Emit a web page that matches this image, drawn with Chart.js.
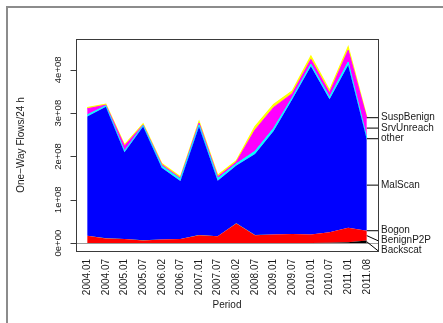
<!DOCTYPE html>
<html>
<head>
<meta charset="utf-8">
<script src="https://cdn.jsdelivr.net/npm/chart.js@4.4.1/dist/chart.umd.min.js"></script>
<style>
  html, body { margin: 0; padding: 0; background: #fff; }
  #wrap { position: relative; width: 443px; height: 323px; overflow: hidden; }
  #frame { position: absolute; left: 6px; top: 6px; width: 470px; height: 340px;
           border-left: 2px solid #8c8c8c; border-top: 2px solid #8c8c8c; }
  #c { position: absolute; left: 0; top: 0; }
</style>
</head>
<body>
<div id="wrap">
  <div id="frame"></div>
  <canvas id="c" width="443" height="323"></canvas>
</div>
<script>
// Sampling periods (x axis)
const periods = ['2004.01','2004.07','2005.01','2005.07','2006.02','2006.07','2007.01','2007.07',
                 '2008.02','2008.07','2009.01','2009.07','2010.01','2010.07','2011.01','2011.08'];

// One-way flows per 24 h, in units of 1e8, per traffic class (stacked bottom to top)
const backscat   = [0.002,0.002,0.002,0.002,0.002,0.002,0.003,0.003,0.003,0.004,0.004,0.005,0.006,0.009,0.020,0.062];
const benignP2P  = [0.168,0.108,0.091,0.060,0.083,0.091,0.182,0.157,0.452,0.181,0.196,0.205,0.194,0.241,0.335,0.223];
const bogon      = [0.002,0.002,0.002,0.002,0.002,0.002,0.002,0.002,0.003,0.002,0.002,0.002,0.002,0.003,0.003,0.003];
const malScan    = [2.748,3.038,2.005,2.626,1.653,1.340,2.503,1.278,1.332,1.873,2.388,3.108,3.878,3.067,3.752,2.102];
const other      = [0.040,0.020,0.030,0.025,0.040,0.045,0.040,0.050,0.040,0.060,0.060,0.040,0.050,0.050,0.070,0.040];
const srvUnreach = [0.140,0.015,0.110,0.012,0.030,0.020,0.040,0.040,0.040,0.490,0.480,0.090,0.110,0.100,0.270,0.450];
const suspBenign = [0.030,0.020,0.030,0.025,0.030,0.030,0.040,0.040,0.030,0.080,0.070,0.060,0.080,0.060,0.080,0.030];

const seriesNames  = ['Backscat','BenignP2P','Bogon','MalScan','other','SrvUnreach','SuspBenign'];
const seriesValues = [backscat, benignP2P, bogon, malScan, other, srvUnreach, suspBenign];
const seriesColors = ['#000000','#ff0000','#00cd00','#0000ff','#00ffff','#ff00ff','#ffff00'];
const seriesEdge   = [0, 0, 0, 0, 1, 1, 1.2];

const yTickValues = [0, 1e8, 2e8, 3e8, 4e8];
const yTickLabels = ['0e+00','1e+08','2e+08','3e+08','4e+08'];

const UNIT = 1e8;
const FONT = '"Liberation Sans", Arial, Helvetica, sans-serif';
const TEXT = '#1a1a1a';

// y range padded by 4% of the stacked maximum on both sides
const totals = periods.map((_, i) => seriesValues.reduce((s, arr) => s + arr[i], 0) * UNIT);
const maxTotal = Math.max(...totals);
const yPad = 0.04 * maxTotal;
const xPad = 0.04 * (periods.length - 1);

const datasets = seriesNames.map((name, k) => ({
  label: name,
  data: seriesValues[k].map((v, i) => ({ x: i, y: v * UNIT })),
  backgroundColor: seriesColors[k],
  borderColor: seriesEdge[k] > 0 ? seriesColors[k] : 'rgba(0,0,0,0)',
  borderWidth: seriesEdge[k] > 0 ? seriesEdge[k] : 1,
  fill: k === 0 ? 'origin' : '-1',
  pointRadius: 0,
  tension: 0
}));

// Box, zero line, y axis ticks and labels, and the right-hand series labels
const decorations = {
  id: 'decorations',
  afterDatasetsDraw(chart) {
    const ctx = chart.ctx;
    const area = chart.chartArea;
    const ys = chart.scales.y;
    const y0 = ys.getPixelForValue(0);
    const left = Math.round(area.left) + 0.5;
    ctx.save();

    // zero line
    ctx.strokeStyle = '#9a9a9a';
    ctx.lineWidth = 1;
    ctx.beginPath();
    ctx.moveTo(area.left, Math.round(y0) + 0.5);
    ctx.lineTo(area.right, Math.round(y0) + 0.5);
    ctx.stroke();

    // plot box
    ctx.strokeStyle = '#3a3a3a';
    ctx.lineWidth = 1;
    ctx.strokeRect(left, Math.round(area.top) + 0.5,
                   Math.round(area.right - area.left), Math.round(area.bottom - area.top));

    // y tick marks
    ctx.beginPath();
    yTickValues.forEach(v => {
      const py = Math.round(ys.getPixelForValue(v)) + 0.5;
      ctx.moveTo(left - 6, py);
      ctx.lineTo(left, py);
    });
    ctx.stroke();

    // y tick labels, written vertically
    ctx.fillStyle = TEXT;
    ctx.font = '9.5px ' + FONT;
    ctx.textAlign = 'center';
    ctx.textBaseline = 'middle';
    yTickValues.forEach((v, i) => {
      const py = ys.getPixelForValue(v);
      ctx.save();
      ctx.translate(area.left - 18, py);
      ctx.rotate(-Math.PI / 2);
      ctx.fillText(yTickLabels[i], 0, 0);
      ctx.restore();
    });

    // series labels at the right end of each layer
    const n = chart.data.datasets.length;
    const last = periods.length - 1;
    const mids = [];
    let below = y0;
    for (let k = 0; k < n; k++) {
      const pt = chart.getDatasetMeta(k).data[last];
      mids.push((pt.y + below) / 2);
      below = pt.y;
    }
    const xEnd = chart.getDatasetMeta(0).data[last].x;
    ctx.font = '10px ' + FONT;
    ctx.textAlign = 'left';
    ctx.strokeStyle = '#000';
    ctx.lineWidth = 1;
    let prev = -Infinity;
    for (let k = n - 1; k >= 0; k--) {
      const ly = Math.max(mids[k], prev + 10);
      prev = ly;
      ctx.beginPath();
      ctx.moveTo(xEnd, mids[k]);
      ctx.lineTo(area.right, ly);
      ctx.stroke();
      ctx.fillText(chart.data.datasets[k].label, area.right + 3, ly);
    }
    ctx.restore();
  }
};

new Chart(document.getElementById('c'), {
  type: 'line',
  data: { datasets },
  plugins: [decorations],
  options: {
    responsive: false,
    animation: false,
    devicePixelRatio: 1,
    layout: { padding: { left: 0, top: 39, right: 65, bottom: 0 } },
    plugins: { legend: { display: false }, tooltip: { enabled: false } },
    elements: { line: { borderJoinStyle: 'miter' } },
    scales: {
      x: {
        type: 'linear',
        min: -xPad,
        max: periods.length - 1 + xPad,
        afterBuildTicks(scale) { scale.ticks = periods.map((_, i) => ({ value: i })); },
        afterFit(scale) { scale.height = 72; },
        grid: { display: false, drawTicks: false },
        border: { display: false },
        ticks: {
          autoSkip: false,
          minRotation: 90,
          maxRotation: 90,
          padding: 8,
          color: TEXT,
          font: { family: FONT, size: 10 },
          callback: (v) => periods[v]
        },
        title: {
          display: true,
          text: 'Period',
          color: TEXT,
          font: { family: FONT, size: 10 },
          padding: { top: 0, bottom: 12 }
        }
      },
      y: {
        type: 'linear',
        stacked: true,
        min: -yPad,
        max: maxTotal + yPad,
        afterBuildTicks(scale) { scale.ticks = yTickValues.map(v => ({ value: v })); },
        afterFit(scale) { scale.width = 76; },
        border: { display: false },
        grid: { display: false },
        ticks: { display: false },
        title: {
          display: true,
          text: 'One\u2212Way Flows/24 h',
          color: TEXT,
          font: { family: FONT, size: 10 },
          padding: { top: 15, bottom: 0 }
        }
      }
    }
  }
});
</script>
</body>
</html>
